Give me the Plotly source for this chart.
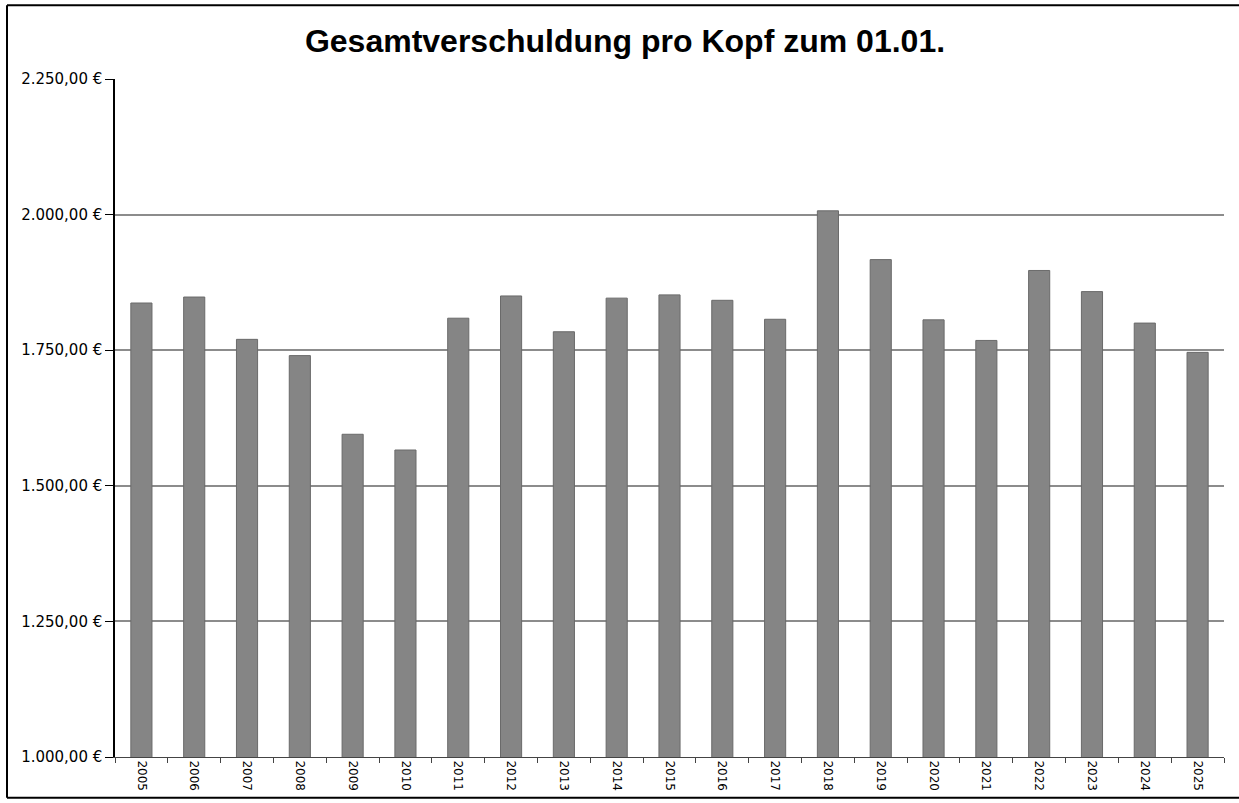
import plotly.graph_objects as go

years = [str(y) for y in range(2005, 2026)]
values = [1837, 1848, 1770, 1740, 1595, 1566, 1809, 1850, 1784, 1846, 1852,
          1842, 1807, 2007, 1917, 1806, 1768, 1897, 1858, 1800, 1746]
y_ticks = [1000, 1250, 1500, 1750, 2000, 2250]
y_ticktext = ["1.000,00 €", "1.250,00 €", "1.500,00 €", "1.750,00 €",
              "2.000,00 €", "2.250,00 €"]

W, H = 1239, 803
L, R, T, B = 115, 1224, 79, 760

fig = go.Figure(go.Bar(
    x=years, y=values,
    marker=dict(color="#858585", line=dict(color="#6a6a6a", width=1)),
    width=0.4,
))

def px_x(p):
    return (p - L) / (R - L)

def px_y(p):
    return (B - p) / (B - T)

border = dict(color="black", width=2)
fig.update_layout(
    width=W, height=H,
    margin=dict(l=L, r=W - R, t=T, b=H - B),
    paper_bgcolor="white", plot_bgcolor="white",
    showlegend=False,
    title=dict(text="<b>Gesamtverschuldung pro Kopf zum 01.01.</b>",
               x=625 / W, xref="container", xanchor="center",
               y=1 - 41 / H, yref="container", yanchor="middle",
               font=dict(family="Liberation Sans", size=32, color="black")),
    font=dict(family="DejaVu Sans", color="black"),
    xaxis=dict(type="category", tickangle=90, tickson="boundaries",
               ticks="outside", ticklen=5, tickcolor="#444",
               showline=True, linecolor="#444", linewidth=1,
               tickfont=dict(size=12, family="DejaVu Sans"),
               showgrid=False),
    yaxis=dict(range=[1000, 2250], tickvals=y_ticks, ticktext=y_ticktext,
               ticks="outside", ticklen=8, tickcolor="black",
               showline=True, linecolor="black", linewidth=1.5,
               showgrid=True, gridcolor="#8c8c8c", gridwidth=1.5,
               tickfont=dict(size=15, family="DejaVu Sans"),
               zeroline=False),
    shapes=[
        dict(type="line", xref="paper", yref="paper",
             x0=px_x(7), x1=px_x(7), y0=px_y(801), y1=px_y(5), line=border),
        dict(type="line", xref="paper", yref="paper",
             x0=px_x(7), x1=px_x(1239), y0=px_y(5), y1=px_y(5), line=border),
        dict(type="line", xref="paper", yref="paper",
             x0=px_x(7), x1=px_x(1239), y0=px_y(801), y1=px_y(801), line=border),
    ],
)

fig.write_html("out.html", config={"displayModeBar": False},
               post_script="document.body.style.margin='0';document.body.style.overflow='hidden';")
